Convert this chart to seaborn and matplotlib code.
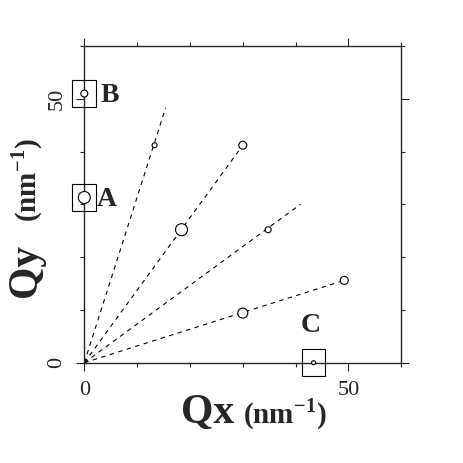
import matplotlib
matplotlib.use("Agg")
import matplotlib.pyplot as plt
import seaborn as sns
import pandas as pd
from matplotlib.ticker import MultipleLocator
from matplotlib.patches import Rectangle

# --- dados ---
# linhas tracejadas saindo da origem (pontos finais)
line_end_x = [15.4, 30.0, 40.9, 49.2]
line_end_y = [48.3, 41.2, 30.0, 15.6]

# circulos (x, y, diametro aproximado em px)
pt_x = [13.3, 30.0, 18.4, 34.8, 49.2, 30.0, 0.0, 0.0, 43.4]
pt_y = [41.2, 41.2, 25.2, 25.2, 15.6, 9.4, 31.3, 51.0, 0.0]
pt_d = [5, 8, 12, 6, 8, 10, 12, 7, 4]

# caixas marcadas
box_labels = ["A", "B", "C"]
box_x = [0.0, 0.0, 43.4]
box_y = [31.3, 51.0, 0.0]
label_x = [4.2, 4.8, 42.8]
label_y = [30.9, 50.6, 7.0]

sns.set_style("ticks")
plt.rcParams['font.family'] = ['Liberation Serif', 'DejaVu Serif']
plt.rcParams['mathtext.fontset'] = 'custom'
plt.rcParams['mathtext.rm'] = 'Liberation Serif'
plt.rcParams['mathtext.bf'] = 'Liberation Serif:bold'

fig = plt.figure(figsize=(4.63, 4.63), dpi=100)
ax = fig.add_axes([84.3 / 463, 100.3 / 463, 317 / 463, 316.7 / 463])

# linhas tracejadas
for x1, y1 in zip(line_end_x, line_end_y):
    df_line = pd.DataFrame({'x': [0, x1], 'y': [0, y1]})
    sns.lineplot(data=df_line, x='x', y='y', ax=ax, color='black', lw=0.8,
                 linestyle=(0, (4, 4)), sort=False)

# circulos
df_pts = pd.DataFrame({'x': pt_x, 'y': pt_y, 'd': pt_d})
sns.scatterplot(data=df_pts, x='x', y='y', ax=ax, s=(df_pts['d'] * 0.72) ** 2,
                facecolor='white', edgecolor='black', linewidth=0.8,
                zorder=5, clip_on=False, legend=False)

# caixas e letras
bw, bh = 4.5, 5.1
for lab, bx, by, lx, ly in zip(box_labels, box_x, box_y, label_x, label_y):
    ax.add_patch(Rectangle((bx - bw / 2, by - bh / 2), bw, bh, fill=False,
                           edgecolor='black', lw=0.8, clip_on=False, zorder=4))
    ax.text(lx, ly, lab, fontsize=20, fontweight='bold', ha='center', va='center')

ax.set_xlim(0, 60)
ax.set_ylim(0, 60)
ax.set_xticks([0, 50])
ax.set_yticks([0, 50])
ax.xaxis.set_minor_locator(MultipleLocator(10))
ax.yaxis.set_minor_locator(MultipleLocator(10))
ax.tick_params(which='both', direction='out', top=True, right=True, width=0.8)
ax.tick_params(which='major', length=6, labelsize=16, pad=7)
ax.tick_params(which='minor', length=3)
ax.tick_params(axis='y', labelrotation=90)
for lbl in ax.get_yticklabels():
    lbl.set_va('center')
ax.set_xlabel('')
ax.set_ylabel('')
for sp in ax.spines.values():
    sp.set_linewidth(1.0)

# rotulos dos eixos
fig.text(181 / 463, 1 - 423 / 463, 'Qx', fontsize=30, fontweight='bold', ha='left', va='baseline')
fig.text(243 / 463, 1 - 423 / 463, r'(nm$^{\mathbf{-1}}$)', fontsize=21, fontweight='bold',
         ha='left', va='baseline')
fig.text(45 / 463, 1 - 297 / 463, 'Qy', fontsize=30, fontweight='bold', rotation=90,
         ha='left', va='bottom', rotation_mode='anchor')
fig.text(45 / 463, 1 - 222 / 463, r'(nm$^{\mathbf{-1}}$)', fontsize=21, fontweight='bold',
         rotation=90, ha='left', va='bottom', rotation_mode='anchor')

fig.savefig('out.png', dpi=100, facecolor='white')
